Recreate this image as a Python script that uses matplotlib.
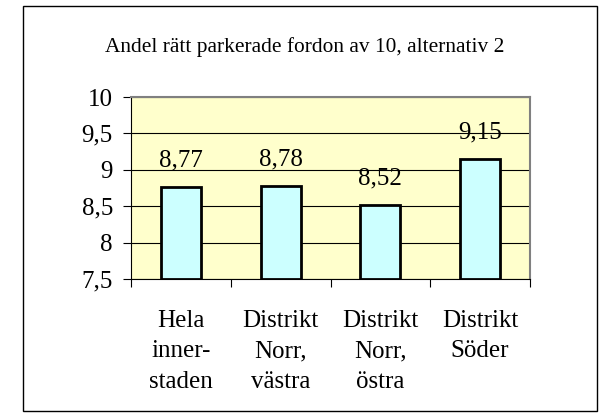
import matplotlib.pyplot as plt
from matplotlib.patches import Rectangle

# data
categories = ['Hela\ninner-\nstaden', 'Distrikt\nNorr,\nvästra', 'Distrikt\nNorr,\nöstra', 'Distrikt\nSöder']
values = [8.77, 8.78, 8.52, 9.15]
yticks = [7.5, 8, 8.5, 9, 9.5, 10]
title = 'Andel rätt parkerade fordon av 10, alternativ 2'

plt.rcParams['font.family'] = ['Liberation Serif', 'DejaVu Serif']

fig = plt.figure(figsize=(6.1, 4.17), dpi=100)

# outer frame
fig.patches.append(Rectangle((23 / 610, 1 - 411 / 417), 574 / 610, 405 / 417,
                             transform=fig.transFigure, fill=False,
                             edgecolor='black', linewidth=1))

ax = fig.add_axes([131 / 610, 1 - 279 / 417, 399 / 610, 182 / 417])
ax.set_facecolor('#FFFFCC')

x = list(range(len(values)))
ax.bar(x, [v - 7.5 for v in values], bottom=7.5, width=0.4,
       color='#CCFFFF', edgecolor='black', linewidth=2, zorder=3)

for xi, v in zip(x, values):
    ax.annotate(f'{v:.2f}'.replace('.', ','), (xi, v), xytext=(0, 19),
                textcoords='offset points', ha='center', va='center',
                fontsize=18, family='Liberation Serif')

ax.set_xlim(-0.5, len(values) - 0.5)
ax.set_ylim(7.5, 10)
ax.set_yticks(yticks)
ax.set_yticklabels([f'{t:g}'.replace('.', ',') for t in yticks], fontsize=18,
                   family='Liberation Serif')
ax.yaxis.grid(True, color='black', linewidth=0.8)
ax.set_axisbelow(True)

ax.set_xticks([i + 0.5 for i in range(-1, len(values))], minor=False)
ax.set_xticklabels([])
ax.set_xticks(x, minor=True)
ax.set_xticklabels(categories, minor=True, fontsize=18, linespacing=1.5,
                   family='Liberation Serif')
ax.tick_params(axis='x', which='major', length=6, direction='out', color='black')
ax.tick_params(axis='x', which='minor', length=0, pad=22)
ax.tick_params(axis='y', length=6, direction='out', pad=7)

for s in ['top', 'right']:
    ax.spines[s].set_color('#808080')
    ax.spines[s].set_linewidth(1.5)
for s in ['left', 'bottom']:
    ax.spines[s].set_color('black')

fig.text(305 / 610, 1 - 47 / 417, title, ha='center', va='center', fontsize=15.4,
         family='Liberation Serif')

fig.savefig('out.png', dpi=100)
